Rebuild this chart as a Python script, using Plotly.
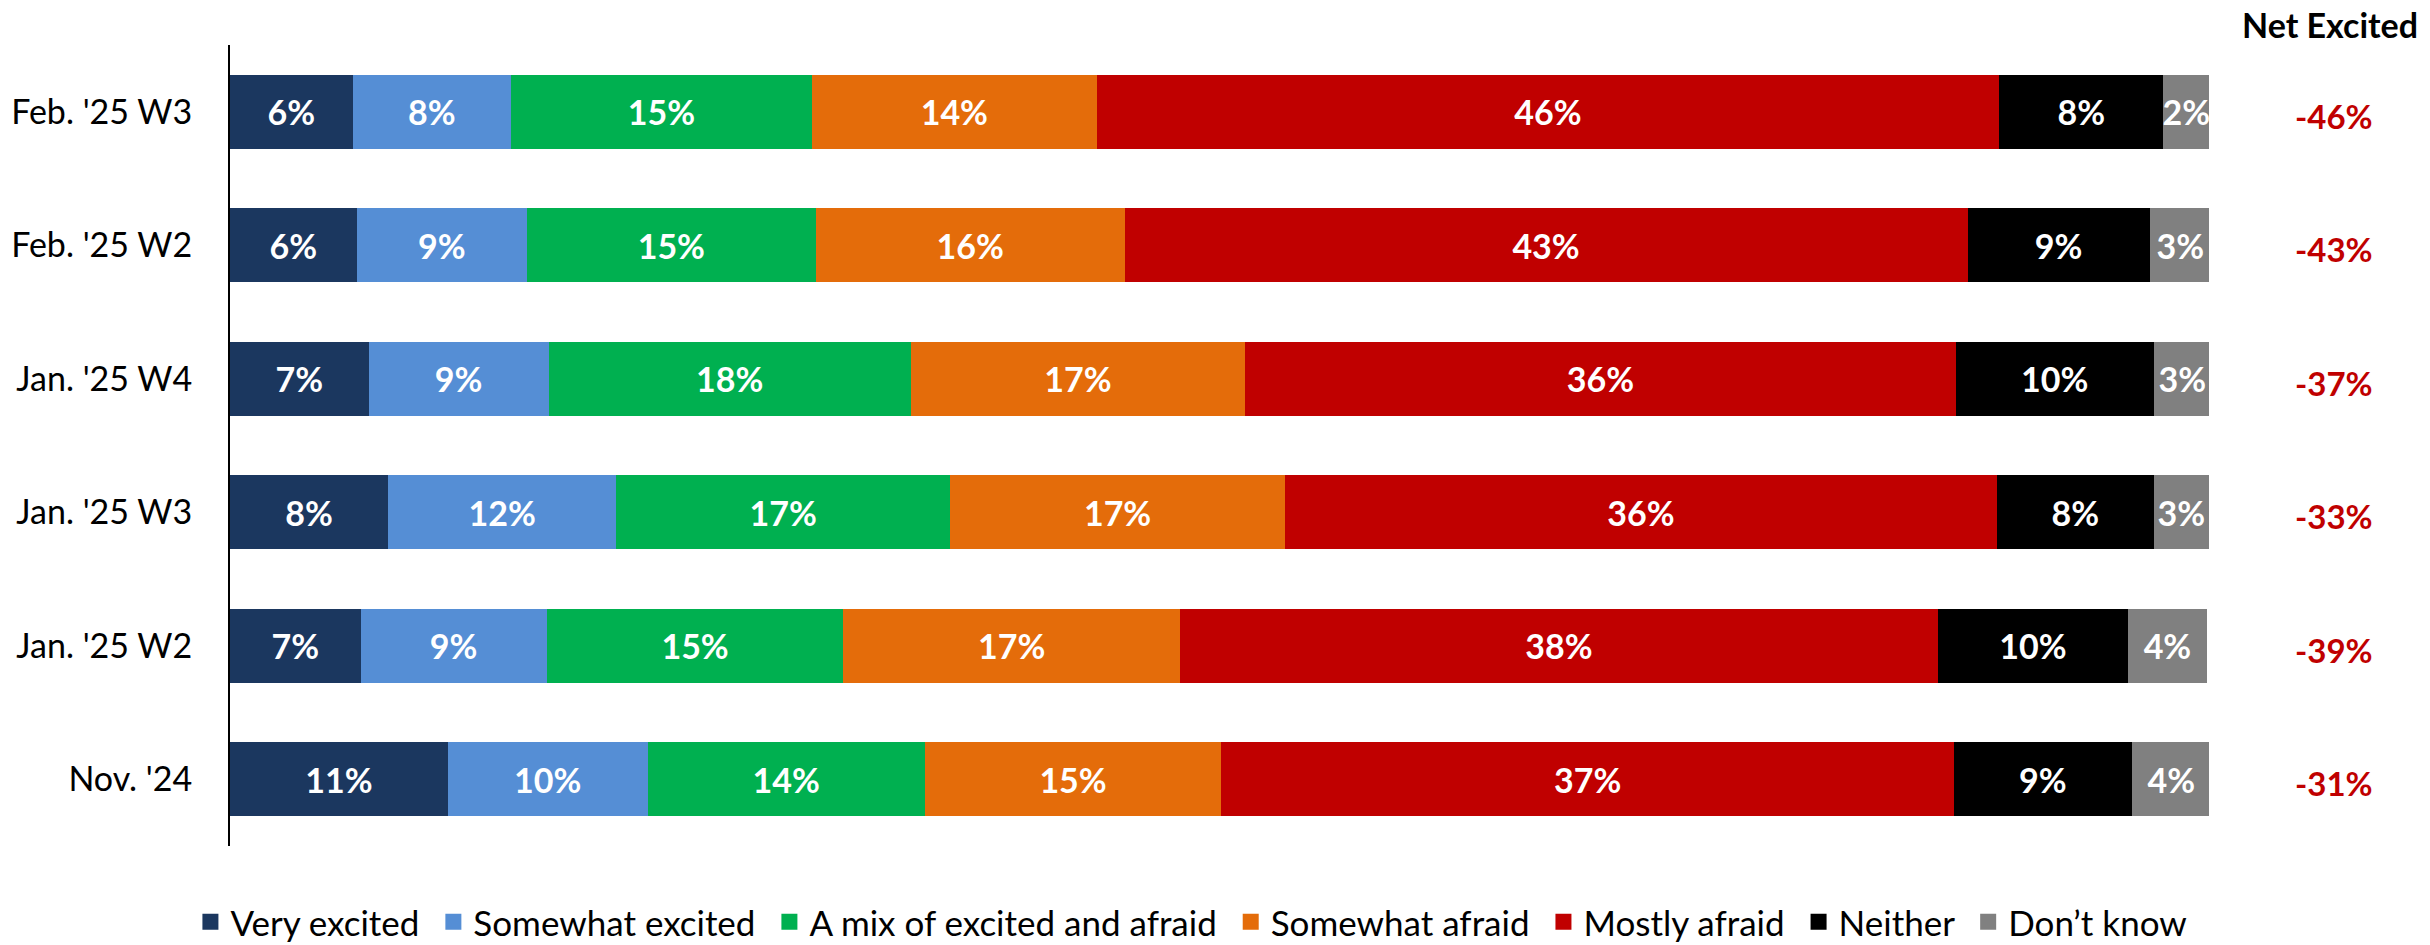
import plotly.graph_objects as go

periods = ["Feb. '25 W3", "Feb. '25 W2", "Jan. '25 W4", "Jan. '25 W3", "Jan. '25 W2", "Nov. '24"]

very_excited = [6.2, 6.4, 7.0, 8.0, 6.6, 11.0]
somewhat_excited = [8.0, 8.6, 9.1, 11.5, 9.4, 10.1]
mixed = [15.2, 14.6, 18.3, 16.9, 15.0, 14.0]
somewhat_afraid = [14.4, 15.6, 16.9, 16.9, 17.0, 15.0]
mostly_afraid = [45.6, 42.6, 35.9, 36.0, 38.3, 37.0]
neither = [8.3, 9.2, 10.0, 7.9, 9.6, 9.0]
dont_know = [2.3, 3.1, 2.9, 2.8, 4.0, 4.0]

net_excited = [-46, -43, -37, -33, -39, -31]

SERIES = [
    ("Very excited", very_excited, "#1B375F"),
    ("Somewhat excited", somewhat_excited, "#558ED5"),
    ("A mix of excited and afraid", mixed, "#00B050"),
    ("Somewhat afraid", somewhat_afraid, "#E46C0A"),
    ("Mostly afraid", mostly_afraid, "#C00000"),
    ("Neither", neither, "#000000"),
    ("Don\u2019t know", dont_know, "#808080"),
]

FONT = "Lato"
SIZE = 34

fig = go.Figure()
for name, vals, color in SERIES:
    fig.add_trace(go.Bar(
        y=periods, x=vals, orientation="h", name=name,
        marker=dict(color=color, line=dict(width=0)),
        text=[f"{v:.0f}%" for v in vals],
        textposition="inside", insidetextanchor="middle", textangle=0,
        textfont=dict(family=FONT, size=SIZE, color="white", weight="bold"),
        showlegend=False, hoverinfo="skip",
    ))
    # legend swatch (trailing nbsp widens the gap between entries)
    fig.add_trace(go.Scatter(
        x=[None], y=[None], mode="markers", name=name + "\u00a0",
        marker=dict(symbol="square", size=21, color=color),
    ))

for p, v in zip(periods, net_excited):
    fig.add_annotation(
        x=1.063, xref="paper", y=p, yref="y", yshift=-4, text=f"{v}%",
        showarrow=False, xanchor="center", yanchor="middle",
        font=dict(family=FONT, size=33, color="#C00000", weight="bold"),
    )
fig.add_annotation(
    x=1.061, xref="paper", y=1.026, yref="paper", text="Net Excited",
    showarrow=False, xanchor="center", yanchor="middle",
    font=dict(family=FONT, size=34, color="black", weight="bold"),
)

fig.update_layout(
    width=2430, height=945,
    barmode="stack", bargap=0.445,
    template="plotly_white",
    plot_bgcolor="white", paper_bgcolor="white",
    margin=dict(l=230, r=221, t=45, b=99, autoexpand=False),
    font=dict(family=FONT, size=SIZE, color="black"),
    uniformtext=dict(minsize=SIZE, mode="show"),
    # x just left of the plot lets the one-row legend use the left margin too
    legend=dict(
        orientation="h", x=-0.02, xanchor="left", y=-0.095, yanchor="middle",
        font=dict(family=FONT, size=35, color="black"),
        itemsizing="trace", traceorder="normal",
    ),
    xaxis=dict(range=[0, 100], showgrid=False, zeroline=False,
               showticklabels=False, showline=False),
    yaxis=dict(categoryorder="array", categoryarray=periods, autorange="reversed",
               showgrid=False, zeroline=False, showline=True, linecolor="black",
               linewidth=2, ticks="", ticklabelstandoff=29,
               tickfont=dict(family=FONT, size=SIZE, color="black")),
)

# the page's default body margin would push the fixed-size figure off the window
fig.write_html("out.html", config={"displayModeBar": False},
               post_script="document.body.style.margin = '0';")
